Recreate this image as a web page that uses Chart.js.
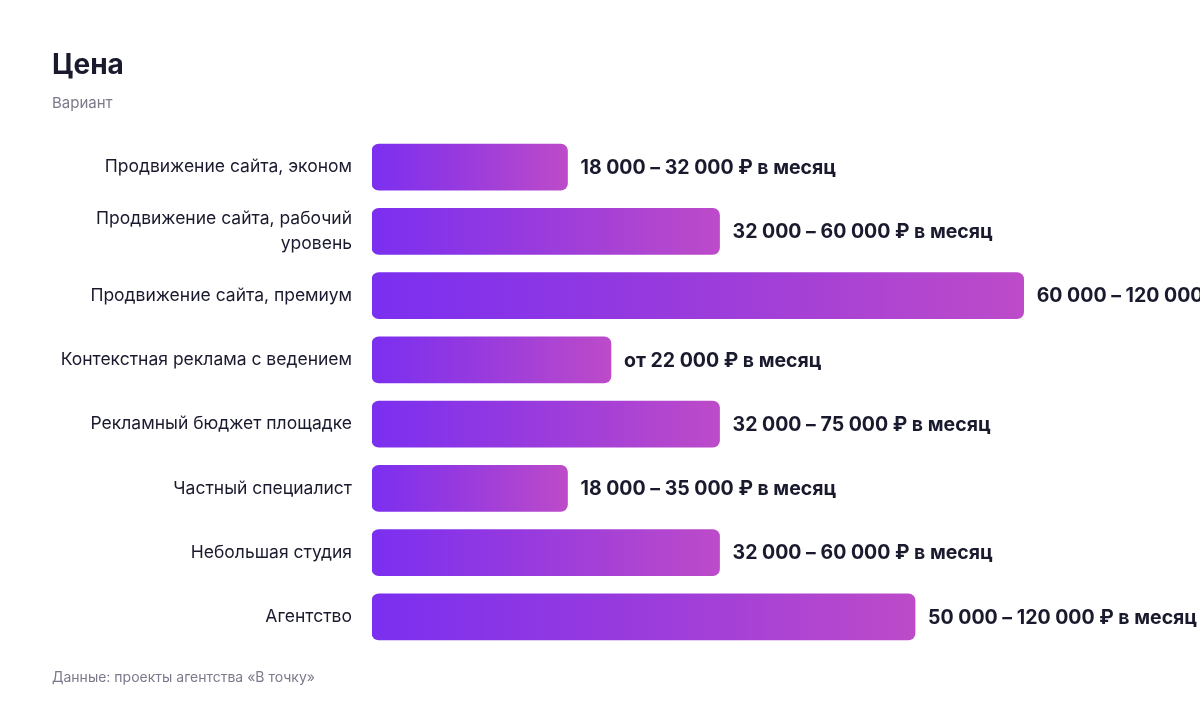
<!DOCTYPE html>
<html lang="ru">
<head>
<meta charset="utf-8">
<title>Цена</title>
<script src="https://cdn.jsdelivr.net/npm/chart.js@4"></script>
<style>
  html, body { margin: 0; padding: 0; background: #fff; }
  body { width: 1200px; height: 712px; position: relative; overflow: hidden;
         font-family: Inter, "Liberation Sans", Arial, sans-serif; }
  #wrap { position: absolute; left: 0; top: 0; width: 1200px; height: 712px; }
  .title { position: absolute; left: 52px; top: 47px; font-size: 28px; font-weight: 700; color: #1a1a2e; }
  .subtitle { position: absolute; left: 52px; top: 93px; font-size: 15px; color: #7a7a8c; }
  .source { position: absolute; left: 52px; top: 668px; font-size: 14px; color: #7a7a8c; }
</style>
</head>
<body>
<div id="wrap"><canvas id="grafica"></canvas></div>
<div class="title">Цена</div>
<div class="subtitle">Вариант</div>
<div class="source">Данные: проекты агентства «В точку»</div>
<script>
const categorias = [
  "Продвижение сайта, эконом",
  ["Продвижение сайта, рабочий", "уровень"],
  "Продвижение сайта, премиум",
  "Контекстная реклама с ведением",
  "Рекламный бюджет площадке",
  "Частный специалист",
  "Небольшая студия",
  "Агентство",
];

// нижняя граница цены, ₽ в месяц
const precioMin = [18000, 32000, 60000, 22000, 32000, 18000, 32000, 50000];

const etiquetas = [
  "18 000 – 32 000 ₽ в месяц",
  "32 000 – 60 000 ₽ в месяц",
  "60 000 – 120 000 ₽ в месяц",
  "от 22 000 ₽ в месяц",
  "32 000 – 75 000 ₽ в месяц",
  "18 000 – 35 000 ₽ в месяц",
  "32 000 – 60 000 ₽ в месяц",
  "50 000 – 120 000 ₽ в месяц",
];

const fuente = 'Inter, "Liberation Sans", Arial, sans-serif';

const etiquetasPlugin = {
  id: "etiquetas",
  afterDatasetsDraw(chart) {
    const ctx = chart.ctx;
    const meta = chart.getDatasetMeta(0);
    ctx.save();
    ctx.font = "bold 19.5px " + fuente;
    ctx.fillStyle = "#1a1a2e";
    ctx.textBaseline = "middle";
    ctx.textAlign = "left";
    meta.data.forEach((bar, i) => {
      ctx.fillText(etiquetas[i], bar.x + 13, bar.y + 1);
    });
    ctx.restore();
  },
};

const grafica = document.getElementById("grafica").getContext("2d");

new Chart(grafica, {
  type: "bar",
  data: {
    labels: categorias,
    datasets: [
      {
        label: "Цена",
        data: precioMin,
        barThickness: 46,
        borderRadius: 7,
        borderSkipped: false,
        backgroundColor(context) {
          const chart = context.chart;
          const x = chart.scales.x;
          if (!x || context.type !== "data") return "#7b2ff0";
          const x0 = x.getPixelForValue(0);
          const x1 = x.getPixelForValue(context.raw);
          if (!isFinite(x0) || !isFinite(x1) || x1 <= x0) return "#7b2ff0";
          const g = chart.ctx.createLinearGradient(x0, 0, x1, 0);
          g.addColorStop(0, "#7b2ff0");
          g.addColorStop(0.45, "#973ade");
          g.addColorStop(1, "#bd4bc9");
          return g;
        },
      },
    ],
  },
  options: {
    indexAxis: "y",
    responsive: true,
    maintainAspectRatio: false,
    animation: false,
    layout: { padding: { top: 135, bottom: 63, left: 0, right: 46 } },
    plugins: {
      legend: { display: false },
      tooltip: { enabled: false },
    },
    scales: {
      x: { display: false, min: 0, max: 72000 },
      y: {
        grid: { display: false, drawTicks: false },
        border: { display: false },
        afterFit(scale) { scale.width = 372; },
        ticks: {
          padding: 20,
          color: "#1a1a2e",
          font: { family: fuente, size: 17.5, lineHeight: 1.4 },
        },
      },
    },
  },
  plugins: [etiquetasPlugin],
});
</script>
</body>
</html>
